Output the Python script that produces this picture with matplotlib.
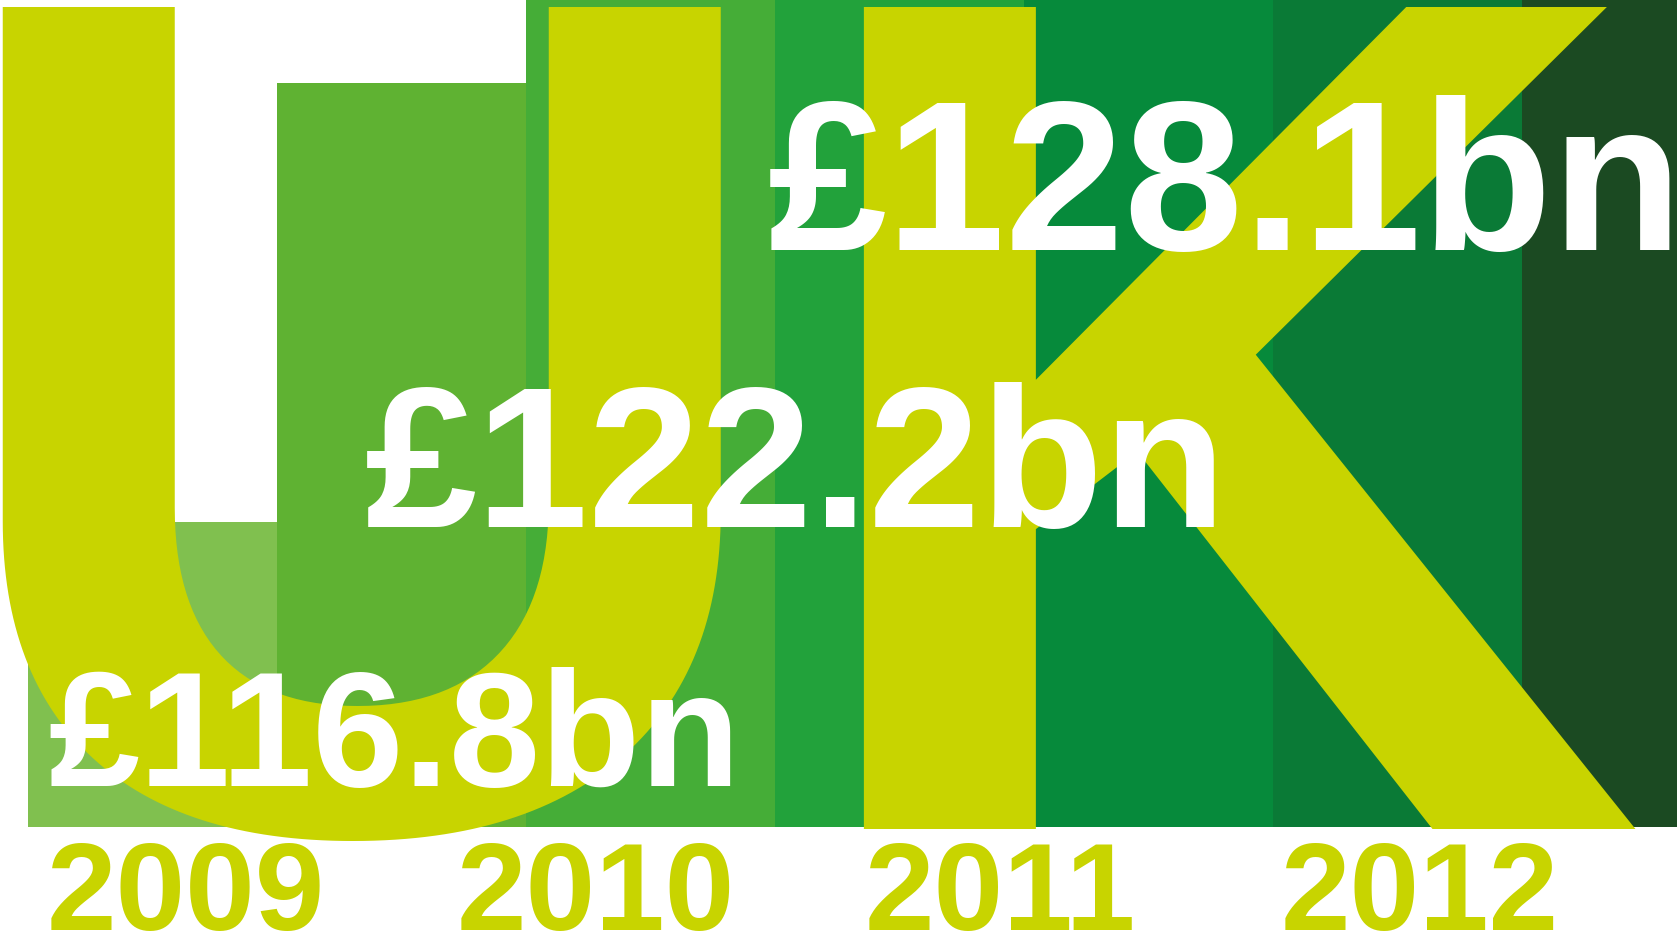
"""UK spending 2009-2012: striped bars behind big 'UK' letters."""

import matplotlib

matplotlib.use("Agg")
import matplotlib.pyplot as plt

# data
years: list[str] = ["2009", "2010", "2011", "2012"]
value_labels: list[str] = ["£116.8bn", "£122.2bn", "£128.1bn"]
# stripe heights above the baseline (the last five run off the top)
stripe_heights: list[float] = [305, 744, 840, 840, 840, 840, 840]
stripe_colors: list[str] = ["#80c04f", "#5fb232", "#45ad37", "#22a23b",
                            "#068a3b", "#0a7a36", "#1b4a22"]

LIME = "#c8d400"
FONT = "Liberation Sans"


def main() -> None:
    """Entry function."""
    fig = plt.figure(figsize=(16.77, 9.37), dpi=100)
    ax = fig.add_axes([0, 0, 1, 1])
    ax.set_xlim(0, 1677)
    ax.set_ylim(-109, 828)
    ax.set_axis_off()

    # stripes
    left0, step = 28, 249
    lefts = [left0 + i * step for i in range(len(stripe_heights))]
    ax.bar(lefts, stripe_heights, width=step + 1, align="edge",
           color=stripe_colors, linewidth=0, zorder=1)

    # giant letters
    for letter, x in zip(["U", "K"], [362, 1214]):
        ax.text(x, -1, letter, fontsize=860, fontweight="bold", family=FONT,
                color=LIME, ha="center", va="baseline", zorder=2)

    # value labels
    label_pos = [(48, 42, 118), (365, 301, 145), (768, 578, 154)]
    for text, (x, y, size) in zip(value_labels, label_pos):
        ax.text(x, y, text, fontsize=size, fontweight="bold", family=FONT,
                color="white", ha="left", va="baseline", zorder=3)

    # year labels
    year_x = [186, 596, 1000, 1420]
    for yr, x in zip(years, year_x):
        ax.text(x, -102, yr, fontsize=90, fontweight="bold", family=FONT,
                color=LIME, ha="center", va="baseline", zorder=3)

    fig.savefig("out.png", dpi=100)


if __name__ == "__main__":
    main()
